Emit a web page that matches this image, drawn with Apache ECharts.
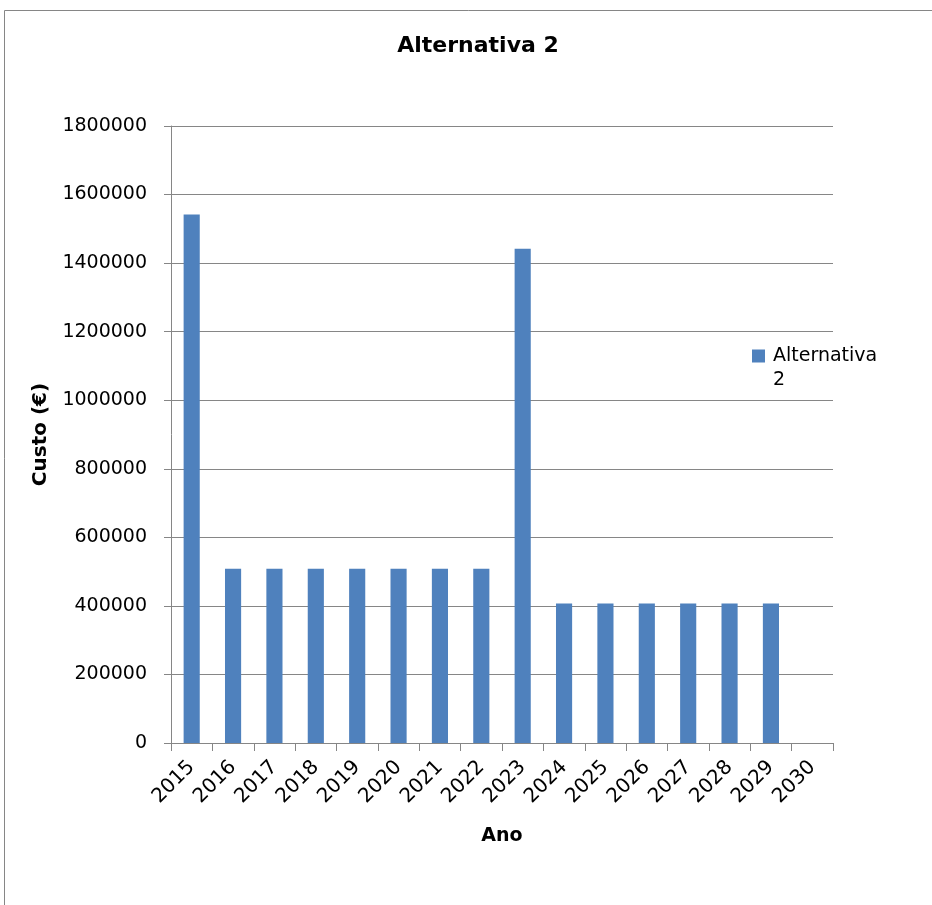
<!DOCTYPE html>
<html>
<head>
<meta charset="utf-8">
<title>Alternativa 2</title>
<script src="https://cdn.jsdelivr.net/npm/echarts@6/dist/echarts.min.js"></script>
<style>
  html, body { margin: 0; padding: 0; background: #ffffff; }
  #chart { width: 932px; height: 905px; }
</style>
</head>
<body>
<div id="chart"></div>
<script>
// Annual cost per year for option 2
const years = ['2015', '2016', '2017', '2018', '2019', '2020', '2021', '2022',
               '2023', '2024', '2025', '2026', '2027', '2028', '2029', '2030'];
const costs = [1542000, 508000, 508000, 508000, 508000, 508000, 508000, 508000,
               1442000, 407000, 407000, 407000, 407000, 407000, 407000, 0];
const seriesName = 'Alternativa 2';

const FONT = 'DejaVu Sans';
const GRAY = '#868686';

const chart = echarts.init(document.getElementById('chart'), null, { renderer: 'canvas' });

chart.setOption({
  backgroundColor: '#ffffff',
  animation: false,
  textStyle: { fontFamily: FONT, color: '#000' },
  title: {
    text: 'Alternativa 2',
    left: 478,
    textAlign: 'center',
    top: 35,
    padding: 0,
    textStyle: { fontFamily: FONT, fontSize: 22, fontWeight: 'bold', color: '#000' }
  },
  graphic: [{
    type: 'rect',
    shape: { x: 4.5, y: 10.5, width: 1000, height: 1000 },
    style: { fill: null, stroke: GRAY, lineWidth: 1 },
    silent: true,
    z: -10
  }],
  legend: {
    left: 752,
    top: 320,
    padding: 0,
    orient: 'vertical',
    icon: 'rect',
    itemWidth: 13,
    itemHeight: 13,
    itemGap: 8,
    // leading empty line keeps the marker level with the first text line
    formatter: () => ' \nAlternativa\n2',
    textStyle: { fontFamily: FONT, fontSize: 19, color: '#000', lineHeight: 24, padding: [0, 0, 0, 3] },
    data: [seriesName]
  },
  grid: { left: 171, right: 99, top: 126, bottom: 162, containLabel: false },
  xAxis: {
    type: 'category',
    data: years,
    boundaryGap: true,
    name: 'Ano',
    nameLocation: 'middle',
    nameGap: 84,
    nameTextStyle: { fontFamily: FONT, fontSize: 19, fontWeight: 'bold', color: '#000' },
    axisLine: { show: true, lineStyle: { color: GRAY, width: 1 } },
    axisTick: { show: true, length: 8, alignWithLabel: false, lineStyle: { color: GRAY } },
    axisLabel: { rotate: 45, fontFamily: FONT, fontSize: 20, color: '#000', margin: 21, interval: 0 },
    splitLine: { show: false }
  },
  yAxis: {
    type: 'value',
    min: 0,
    max: 1800000,
    interval: 200000,
    name: 'Custo (€)',
    nameLocation: 'middle',
    nameRotate: 90,
    nameGap: 120,
    nameTextStyle: { fontFamily: FONT, fontSize: 20, fontWeight: 'bold', color: '#000' },
    axisLine: { show: true, lineStyle: { color: GRAY, width: 1 } },
    axisTick: { show: true, inside: false, length: 7, lineStyle: { color: GRAY, width: 1 } },
    axisLabel: {
      fontFamily: FONT, fontSize: 19, color: '#000', margin: 24,
      formatter: (v) => String(v)
    },
    splitLine: { show: true, lineStyle: { color: GRAY, width: 1 } }
  },
  series: [{
    name: seriesName,
    type: 'bar',
    data: costs,
    barWidth: '39%',
    itemStyle: { color: '#4f81bd' }
  }]
});
</script>
</body>
</html>
